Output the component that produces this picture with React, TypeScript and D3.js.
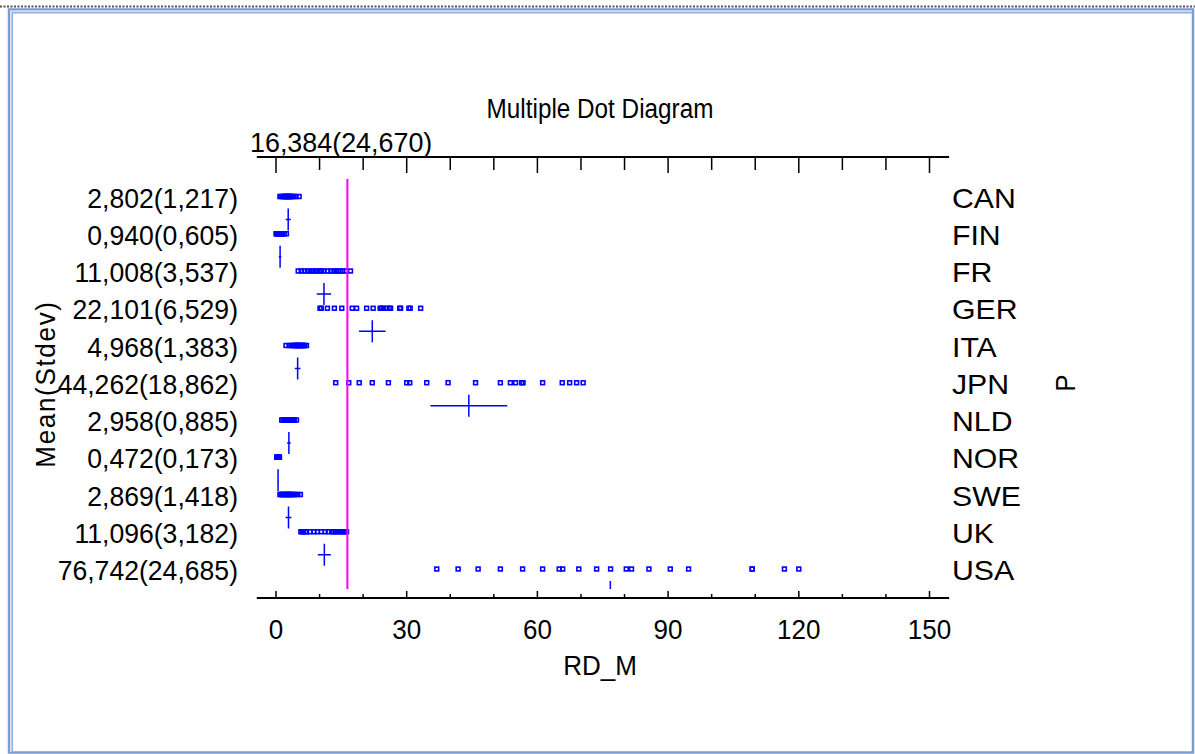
import React from 'react';
import * as d3 from 'd3';

// countries in row order (top to bottom)
const countries = ['CAN', 'FIN', 'FR', 'GER', 'ITA', 'JPN', 'NLD', 'NOR', 'SWE', 'UK', 'USA'];

// "Mean(Stdev)" labels as printed on the left
const statLabels = [
  '2,802(1,217)', '0,940(0,605)', '11,008(3,537)', '22,101(6,529)', '4,968(1,383)',
  '44,262(18,862)', '2,958(0,885)', '0,472(0,173)', '2,869(1,418)', '11,096(3,182)', '76,742(24,685)',
];
const means = [2.802, 0.94, 11.008, 22.101, 4.968, 44.262, 2.958, 0.472, 2.869, 11.096, 76.742];
const stdevs = [1.217, 0.605, 3.537, 6.529, 1.383, 18.862, 0.885, 0.173, 1.418, 3.182, 24.685];

const overallMean = 16.384;
const overallLabel = '16,384(24,670)';
const nObs = 20;
const tCrit = 2.093; // t(0.975, 19)

const canObs = [0.9, 1.2, 1.5, 1.8, 2.0, 2.0, 2.2, 2.4, 2.6, 2.7, 2.8, 2.9, 3.0, 3.2, 3.4, 3.6, 3.8, 4.1, 4.6, 5.3];
const finObs = [0.0, 0.2, 0.3, 0.4, 0.5, 0.6, 0.7, 0.7, 0.75, 0.8, 0.9, 1.0, 1.05, 1.1, 1.2, 1.3, 1.4, 1.5, 1.9, 2.4];
const frObs = [5.1, 5.8, 6.5, 7.2, 7.8, 8.4, 9.0, 9.6, 10.1, 10.5, 11.0, 11.9, 12.6, 13.3, 13.8, 14.3, 14.8, 15.3, 16.1, 17.1];
const gerObs = [10.1, 10.4, 11.8, 13.4, 15.1, 17.5, 18.5, 20.8, 22.3, 23.9, 24.2, 24.6, 25.4, 26.0, 26.3, 28.4, 28.6, 30.5, 30.8, 33.2];
const itaObs = [2.3, 3.0, 3.5, 3.8, 4.1, 4.3, 4.5, 4.7, 4.9, 5.0, 5.1, 5.2, 5.4, 5.6, 5.8, 6.0, 6.2, 6.4, 6.6, 7.0];
const jpnObs = [13.7, 16.7, 19.1, 22.1, 25.8, 30.0, 30.7, 34.6, 39.5, 45.8, 51.5, 53.8, 55.0, 56.4, 56.7, 61.2, 65.7, 67.4, 69.0, 70.5];
const nldObs = [1.3, 1.6, 1.9, 2.1, 2.3, 2.5, 2.6, 2.7, 2.8, 2.9, 3.0, 3.1, 3.3, 3.4, 3.4, 3.6, 3.8, 4.0, 4.2, 4.7];
const norObs = [0.2, 0.25, 0.3, 0.32, 0.35, 0.36, 0.38, 0.4, 0.42, 0.45, 0.47, 0.5, 0.52, 0.55, 0.58, 0.6, 0.63, 0.66, 0.7, 0.8];
const sweObs = [0.9, 1.1, 1.3, 1.5, 1.7, 1.9, 2.1, 2.3, 2.5, 2.7, 2.9, 3.1, 3.2, 3.3, 3.6, 3.9, 4.2, 4.6, 5.0, 5.6];
const ukObs = [5.7, 6.0, 6.3, 6.8, 7.0, 7.8, 8.7, 9.5, 10.4, 11.3, 12.0, 12.8, 13.2, 13.6, 14.0, 14.4, 15.0, 15.4, 15.8, 16.2];
const usaObs = [36.9, 41.8, 46.4, 51.5, 56.6, 61.2, 65.0, 65.8, 69.5, 73.6, 76.8, 80.4, 81.6, 85.6, 90.5, 94.7, 109.3, 109.3, 116.7, 120.0];
const observations = [canObs, finObs, frObs, gerObs, itaObs, jpnObs, nldObs, norObs, sweObs, ukObs, usaObs];

const xTickValues = [0, 30, 60, 90, 120, 150];
const xMinorValues = d3.range(0, 151, 10);

const W = 1195;
const H = 754;
const FONT = '"Liberation Sans", Arial, sans-serif';
const BLUE = '#0000ff';

type LabelProps = {
  x: number; y: number; text: string;
  anchor?: 'start' | 'middle' | 'end';
  size?: number; sx?: number; rotate?: number; spacing?: number;
};

// narrow-ish text like the old windows font
const Label = ({ x, y, text, anchor = 'start', size = 28, sx = 0.93, rotate = 0, spacing = 0 }: LabelProps) => (
  <text
    transform={`translate(${x},${y}) rotate(${rotate}) scale(${sx},1)`}
    textAnchor={anchor}
    fontFamily={FONT}
    fontSize={size}
    letterSpacing={spacing}
    fill="#000"
  >
    {text}
  </text>
);

export default function App() {
  const x = d3.scaleLinear().domain([0, 150]).range([276, 929.5]);
  const y = d3.scalePoint<string>().domain(countries).range([196.5, 569]);

  const axisX0 = x(-4.4);
  const axisX1 = x(154.5);
  const topAxisY = 157;
  const bottomAxisY = 598;
  const plotTop = 179;
  const plotBottom = 589;
  const crossDy = 23;
  const crossHalfH = 11;
  const baseOff = 10; // text baseline below visual centre

  return (
    <svg width={W} height={H} style={{ position: 'absolute', left: 0, top: 0, background: '#fff' }}>
      {/* window frame */}
      <line x1={0} x2={W} y1={6.5} y2={6.5} stroke="#555" strokeWidth={2} strokeDasharray="2,1.5" />
      <rect x={9} y={9.5} width={W - 11} height={H - 11} fill="none" stroke="#7c9cd4" strokeWidth={2.5} />
      <path d={`M10.8,${H - 2} V11.3 H${W - 3}`} fill="none" stroke="#d3dff3" strokeWidth={1.5} />
      <path d={`M12.3,${H - 2.5} V12.8 H${W - 3}`} fill="none" stroke="#8fadde" strokeWidth={1.5} />

      <defs>
        <clipPath id="plot-clip">
          <rect x={axisX0} y={plotTop} width={axisX1 - axisX0} height={plotBottom - plotTop} />
        </clipPath>
      </defs>

      {/* titles */}
      <Label x={600} y={108 + baseOff} text="Multiple Dot Diagram" anchor="middle" size={27} sx={0.9} />
      <Label x={250} y={142 + baseOff} text={overallLabel} sx={0.96} />

      {/* top axis */}
      <line x1={axisX0} x2={axisX1} y1={topAxisY} y2={topAxisY} stroke="#000" strokeWidth={2} />
      {xMinorValues.map(v => (
        <line key={`tt${v}`} x1={x(v)} x2={x(v)} y1={topAxisY}
          y2={topAxisY + (v % 30 === 0 ? 16 : 13)} stroke="#000" strokeWidth={1.5} />
      ))}

      {/* bottom axis */}
      <line x1={axisX0} x2={axisX1} y1={bottomAxisY} y2={bottomAxisY} stroke="#000" strokeWidth={2} />
      {xMinorValues.map(v => (
        <line key={`bt${v}`} x1={x(v)} x2={x(v)} y1={bottomAxisY}
          y2={bottomAxisY - (v % 30 === 0 ? 7 : 4)} stroke="#000" strokeWidth={1.5} />
      ))}
      {xTickValues.map(v => (
        <Label key={`bl${v}`} x={x(v)} y={629 + baseOff} text={String(v)} anchor="middle" />
      ))}
      <Label x={600} y={665 + baseOff} text="RD_M" anchor="middle" />

      {/* row labels */}
      {countries.map((c, i) => (
        <g key={c}>
          <Label x={238} y={(y(c) as number) + 1 + baseOff} text={statLabels[i]} anchor="end" sx={0.95} />
          <Label x={952} y={(y(c) as number) + 1 + baseOff} text={c} sx={1.08} />
        </g>
      ))}
      <Label x={45 + baseOff} y={384} text="Mean(Stdev)" anchor="middle" rotate={-90} spacing={1.8} />
      <Label x={1065 + baseOff} y={383} text="P" anchor="middle" rotate={-90} />

      {/* dots and mean crosses */}
      <g clipPath="url(#plot-clip)">
        {countries.map((c, i) => {
          const cy = y(c) as number;
          const half = tCrit * stdevs[i] / Math.sqrt(nObs);
          return (
            <g key={`d${c}`}>
              {observations[i].map((v, j) => (
                <rect key={j} x={x(v) - 1.9} y={cy - 1.9} width={3.8} height={3.8}
                  fill="none" stroke={BLUE} strokeWidth={1.6} />
              ))}
              <line x1={x(means[i] - half)} x2={x(means[i] + half)} y1={cy + crossDy} y2={cy + crossDy}
                stroke={BLUE} strokeWidth={1.5} />
              <line x1={x(means[i])} x2={x(means[i])} y1={cy + crossDy - crossHalfH} y2={cy + crossDy + crossHalfH}
                stroke={BLUE} strokeWidth={1.5} />
            </g>
          );
        })}
        <line x1={x(overallMean)} x2={x(overallMean)} y1={plotTop} y2={plotBottom} stroke="#ff00ff" strokeWidth={2} />
      </g>
    </svg>
  );
}
